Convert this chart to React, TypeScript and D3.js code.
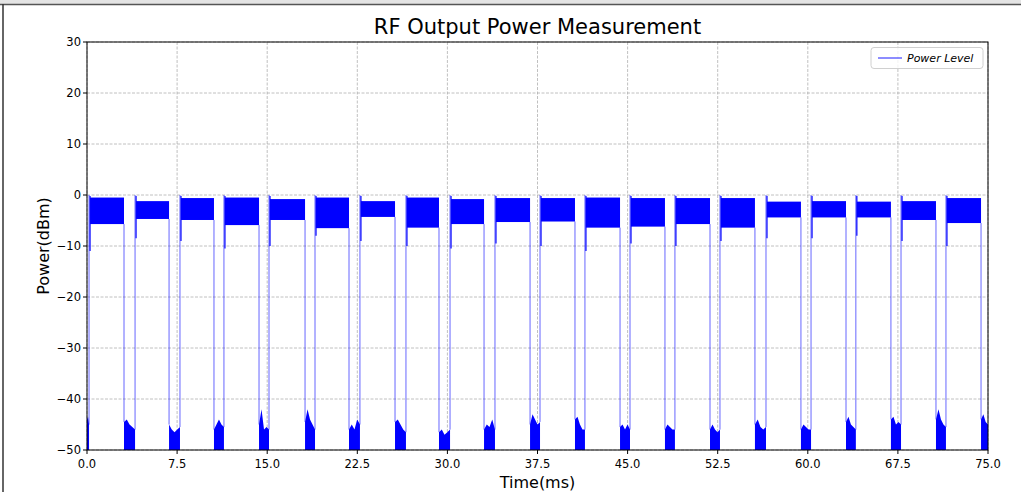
import React from "react";
import * as d3 from "d3";

const W = 1021;
const H = 492;
const M = { left: 87, right: 988, top: 42, bottom: 450 };

// burst on/off times (ms)
const burstStart = [0.17, 4.0, 7.74, 11.4, 15.15, 18.98, 22.72, 26.55, 30.22, 33.96, 37.71, 41.45, 45.2, 48.94, 52.69, 56.52, 60.27, 64.0, 67.76, 71.5];
const burstEnd = [3.08, 6.83, 10.57, 14.32, 18.15, 21.81, 25.64, 29.3, 33.05, 36.88, 40.62, 44.37, 48.11, 51.86, 55.6, 59.43, 63.18, 66.92, 70.67, 74.42];
// upper and lower edge of the noisy on-level (dBm)
const burstTop = [-0.5, -1.2, -0.6, -0.5, -0.8, -0.5, -1.2, -0.5, -0.8, -0.6, -0.6, -0.5, -0.6, -0.6, -0.6, -1.3, -1.2, -1.3, -1.2, -0.6];
const burstBottom = [-5.7, -4.7, -4.9, -5.9, -4.9, -6.5, -4.3, -6.4, -5.7, -5.3, -5.2, -6.4, -6.2, -5.7, -6.4, -4.4, -4.4, -4.4, -4.9, -5.5];
// dip right after each rising edge (dBm)
const burstDip = [-11, -8.5, -9, -10.5, -10, -8, -9, -10, -10.5, -9.5, -10, -11, -9.5, -10, -9, -8.5, -8.5, -8, -9, -10];
// noise envelope in the off periods (dBm), one row per gap
const gapNoise = [
  [-44, -43.5, -45],
  [-44.5, -44, -45, -45.5, -46],
  [-45, -46, -46.5, -46, -45.5],
  [-46, -45, -44, -45, -45.5],
  [-45, -42, -46, -45.5, -46],
  [-44.5, -42, -44, -45, -46],
  [-46, -45, -46, -44, -45],
  [-44.5, -44, -45, -46, -46.5],
  [-46.5, -46, -47, -46.5, -46],
  [-46, -45, -45.5, -44, -46],
  [-45, -43, -44, -45, -44.5],
  [-44, -43.5, -45, -46, -46],
  [-45.5, -45, -46, -45, -46],
  [-46, -45, -45.5, -46, -46],
  [-46, -45, -46, -46.5, -46],
  [-45, -44, -45.5, -46, -45.5],
  [-46, -45, -45.5, -46, -46],
  [-44.5, -43.5, -45, -45.5, -46],
  [-44, -43.5, -45, -44.5, -45],
  [-44, -42, -44, -45, -45.5],
  [-44, -43, -44.5, -45],
];

const xTicks = [0, 7.5, 15, 22.5, 30, 37.5, 45, 52.5, 60, 67.5, 75];
const yTicks = [-50, -40, -30, -20, -10, 0, 10, 20, 30];

const FONT = "DejaVu Sans, sans-serif";
const BLUE = "#0000ff";

export default function App() {
  const x = d3.scaleLinear().domain([0, 75]).range([M.left, M.right]);
  const y = d3.scaleLinear().domain([-50, 30]).range([M.bottom, M.top]);

  const gaps = gapNoise.map((vals, i) => {
    const a = i === 0 ? 0 : burstEnd[i - 1];
    const b = i < burstStart.length ? burstStart[i] : 75;
    return vals.map((v, j) => ({ t: a + ((b - a) * j) / (vals.length - 1), v }));
  });

  const area = d3
    .area<{ t: number; v: number }>()
    .x((d) => x(d.t))
    .y0(y(-51))
    .y1((d) => y(d.v));

  const fmt = (v: number) => (v < 0 ? "\u2212" + Math.abs(v) : String(v));

  return (
    <div style={{ position: "fixed", left: 0, top: 0 }}>
      <svg width={W} height={H} style={{ display: "block", background: "#fff" }}>
        <defs>
          <clipPath id="plot">
            <rect x={M.left} y={M.top} width={M.right - M.left} height={M.bottom - M.top} />
          </clipPath>
        </defs>
        <rect x={0} y={0} width={W} height={4} fill="#e4e4e4" />
        <line x1={0} x2={W} y1={4.5} y2={4.5} stroke="#555" strokeWidth={1.5} />
        <line x1={3} x2={3} y1={4} y2={H} stroke="#333" strokeWidth={1.5} />

        {/* grid */}
        <g stroke="#b0b0b0" strokeWidth={0.8} strokeDasharray="3,1.5">
          {xTicks.map((t) => (
            <line key={"gx" + t} x1={x(t)} x2={x(t)} y1={M.top} y2={M.bottom} />
          ))}
          {yTicks.map((t) => (
            <line key={"gy" + t} x1={M.left} x2={M.right} y1={y(t)} y2={y(t)} />
          ))}
        </g>

        <g clipPath="url(#plot)">
          {gaps.map((g, i) => (
            <path key={"n" + i} d={area(g) || ""} fill={BLUE} />
          ))}
          {burstStart.map((s, i) => {
            const e = burstEnd[i];
            const prevGap = gapNoise[i];
            const nextGap = gapNoise[i + 1];
            return (
              <g key={"b" + i}>
                <line x1={x(s)} x2={x(s)} y1={y(prevGap[prevGap.length - 1])} y2={y(0)} stroke={BLUE} strokeOpacity={0.6} strokeWidth={1} />
                <line x1={x(s) + 1} x2={x(s) + 1} y1={y(-0.2)} y2={y(burstDip[i])} stroke={BLUE} strokeWidth={1.2} />
                <rect
                  x={x(s) + 1}
                  y={y(burstTop[i])}
                  width={x(e) - x(s) - 1}
                  height={y(burstBottom[i]) - y(burstTop[i])}
                  fill={BLUE}
                />
                <line x1={x(e)} x2={x(e)} y1={y(burstBottom[i])} y2={y(nextGap[0])} stroke={BLUE} strokeOpacity={0.6} strokeWidth={1} />
              </g>
            );
          })}
        </g>

        {/* spines */}
        <rect x={M.left} y={M.top} width={M.right - M.left} height={M.bottom - M.top} fill="none" stroke="#000" strokeWidth={1} />

        {/* ticks */}
        <g fontFamily={FONT} fontSize={11.5} fill="#000">
          {yTicks.map((t) => (
            <g key={"yt" + t}>
              <line x1={M.left - 4} x2={M.left} y1={y(t)} y2={y(t)} stroke="#000" />
              <text x={M.left - 6} y={y(t) + 4} textAnchor="end">
                {fmt(t)}
              </text>
            </g>
          ))}
          {xTicks.map((t) => (
            <g key={"xt" + t}>
              <line x1={x(t)} x2={x(t)} y1={M.bottom} y2={M.bottom + 4} stroke="#000" />
              <text x={x(t)} y={M.bottom + 18} textAnchor="middle">
                {t.toFixed(1)}
              </text>
            </g>
          ))}
        </g>

        <text x={(M.left + M.right) / 2} y={34} textAnchor="middle" fontFamily={FONT} fontSize={21}>
          RF Output Power Measurement
        </text>
        <text x={(M.left + M.right) / 2} y={488} textAnchor="middle" fontFamily={FONT} fontSize={16}>
          Time(ms)
        </text>
        <text
          transform={`translate(49,${(M.top + M.bottom) / 2}) rotate(-90)`}
          textAnchor="middle"
          fontFamily={FONT}
          fontSize={16}
        >
          Power(dBm)
        </text>

        {/* legend */}
        <g>
          <rect x={871} y={47.5} width={112} height={21} rx={3} fill="#fff" fillOpacity={0.8} stroke="#d0d0d0" />
          <line x1={878} x2={902} y1={58} y2={58} stroke={BLUE} strokeWidth={0.9} />
          <text x={907} y={62} fontFamily={FONT} fontSize={11} fontStyle="italic">
            Power Level
          </text>
        </g>
      </svg>
    </div>
  );
}
